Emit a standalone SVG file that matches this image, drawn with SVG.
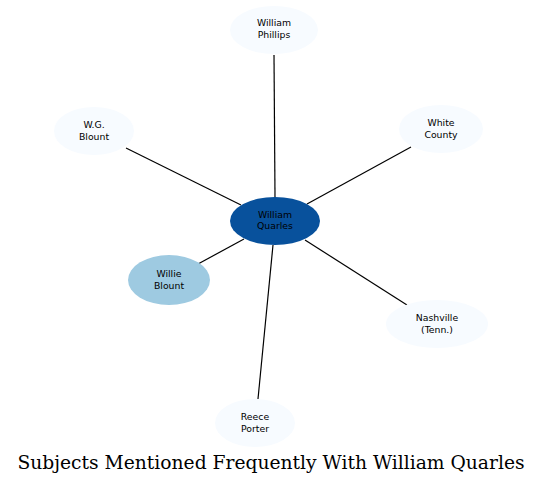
<svg xmlns="http://www.w3.org/2000/svg" width="543" height="484" viewBox="0 0 543 484">
<style>
.e{stroke:#000;stroke-width:1.2;fill:none}
.n{fill:#f7fbff}
.t{font-family:"DejaVu Sans",sans-serif;font-size:9.3px;text-anchor:middle;fill:#000}
.title{font-family:"DejaVu Serif",serif;font-size:18.7px;text-anchor:middle;fill:#000}
</style>
<rect width="543" height="484" fill="#fff"/>
<g id="edges">
<line class="e" x1="275" y1="197" x2="274" y2="55"/>
<line class="e" x1="241" y1="205" x2="126" y2="148"/>
<line class="e" x1="307" y1="204" x2="411" y2="147"/>
<line class="e" x1="244" y1="239" x2="198" y2="264"/>
<line class="e" x1="305" y1="240" x2="407" y2="305"/>
<line class="e" x1="273" y1="245" x2="258" y2="399"/>
</g>
<g id="quarles"><ellipse cx="275" cy="221" rx="45" ry="24" fill="#08519c"/><text class="t" x="275" y="218">William</text><text class="t" x="275" y="229">Quarles</text></g>
<g id="phillips"><ellipse class="n" cx="274" cy="30" rx="44" ry="24"/><text class="t" x="274" y="26">William</text><text class="t" x="274" y="38">Phillips</text></g>
<g id="wgblount"><ellipse class="n" cx="94" cy="131" rx="40" ry="24"/><text class="t" x="94" y="128">W.G.</text><text class="t" x="94" y="140">Blount</text></g>
<g id="whitecounty"><ellipse class="n" cx="441" cy="129" rx="42" ry="24"/><text class="t" x="441" y="126">White</text><text class="t" x="441" y="138">County</text></g>
<g id="willieblount"><ellipse cx="169" cy="280" rx="41" ry="25" fill="#9ecae1"/><text class="t" x="169" y="277">Willie</text><text class="t" x="169" y="289">Blount</text></g>
<g id="nashville"><ellipse class="n" cx="437" cy="324" rx="51" ry="24"/><text class="t" x="437" y="321">Nashville</text><text class="t" x="437" y="333">(Tenn.)</text></g>
<g id="reece"><ellipse class="n" cx="255" cy="423" rx="40" ry="24"/><text class="t" x="255" y="420">Reece</text><text class="t" x="255" y="432">Porter</text></g>
<text class="title" x="271" y="469">Subjects Mentioned Frequently With William Quarles</text>
</svg>
